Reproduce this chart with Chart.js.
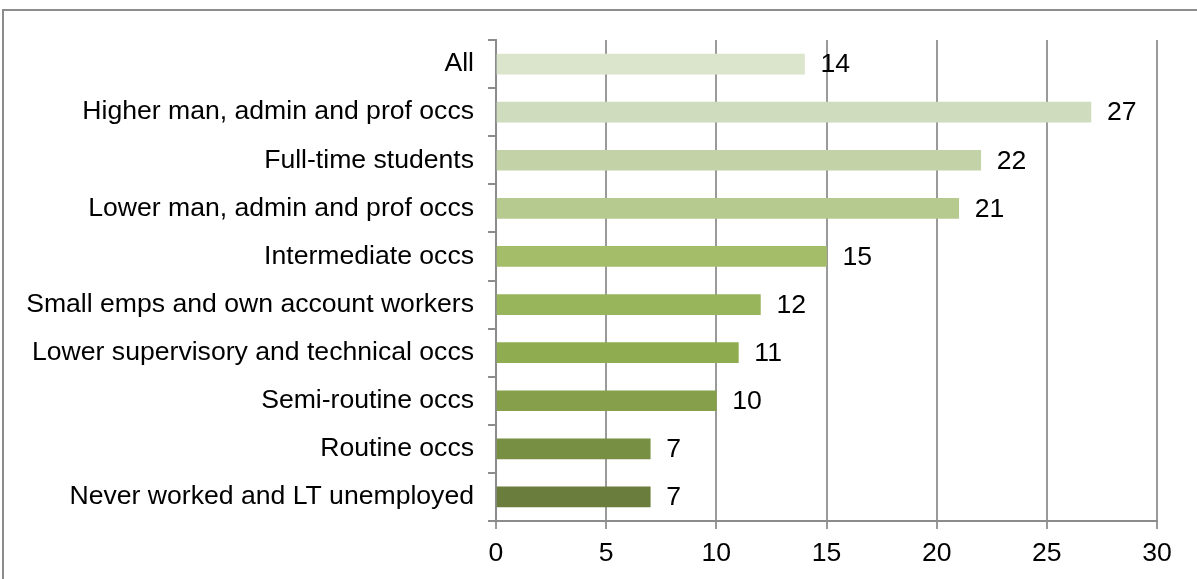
<!DOCTYPE html>
<html>
<head>
<meta charset="utf-8">
<script src="https://cdn.jsdelivr.net/npm/chart.js@4/dist/chart.umd.min.js"></script>
<style>
  html, body { margin: 0; padding: 0; background: #fff; }
  #wrap { position: relative; width: 1197px; height: 579px; }
</style>
</head>
<body>
<div id="wrap"><canvas id="chart" width="1197" height="579"></canvas></div>
<script>
// categories, top to bottom
var categories = [
    'All',
    'Higher man, admin and prof occs',
    'Full-time students',
    'Lower man, admin and prof occs',
    'Intermediate occs',
    'Small emps and own account workers',
    'Lower supervisory and technical occs',
    'Semi-routine occs',
    'Routine occs',
    'Never worked and LT unemployed'
];
var values = [14, 27, 22, 21, 15, 12, 11, 10, 7, 7];
var barColors = [
    '#dbe5cc', '#cfdcbd', '#c3d3a7', '#b6ca8f', '#a3bd69',
    '#98b55b', '#8fac50', '#869f4a', '#778f42', '#6a7d3c'
];
var xTicks = [0, 5, 10, 15, 20, 25, 30];

var FONT = 'Liberation Sans, Arial, sans-serif';
var FONT_SIZE = 26.6;

// outer frame of the chart box (cut at the right and bottom edges)
var framePlugin = {
    id: 'frame',
    beforeDraw: function(chart) {
        var ctx = chart.ctx;
        ctx.save();
        ctx.strokeStyle = '#8c8c8c';
        ctx.lineWidth = 2;
        ctx.beginPath();
        ctx.moveTo(3, 600);
        ctx.lineTo(3, 10);
        ctx.lineTo(1200, 10);
        ctx.stroke();
        ctx.restore();
    }
};

// numbers written after each bar
var valueLabels = {
    id: 'valueLabels',
    afterDatasetsDraw: function(chart) {
        var ctx = chart.ctx;
        var meta = chart.getDatasetMeta(0);
        ctx.save();
        ctx.font = FONT_SIZE + 'px ' + FONT;
        ctx.fillStyle = '#000';
        ctx.textAlign = 'left';
        ctx.textBaseline = 'middle';
        meta.data.forEach(function(bar, i) {
            ctx.fillText(String(values[i]), bar.x + 16, bar.y + 1);
        });
        ctx.restore();
    }
};

new Chart(document.getElementById('chart'), {
    type: 'bar',
    data: {
        labels: categories,
        datasets: [{
            data: values,
            backgroundColor: barColors,
            borderWidth: 0,
            barThickness: 20
        }]
    },
    options: {
        indexAxis: 'y',
        responsive: false,
        animation: false,
        events: [],
        layout: { padding: { top: 40, right: 40, left: 0, bottom: 0 } },
        plugins: {
            legend: { display: false },
            tooltip: { enabled: false }
        },
        scales: {
            x: {
                min: 0,
                max: 30,
                afterBuildTicks: function(scale) {
                    scale.ticks = xTicks.map(function(v) { return { value: v }; });
                },
                afterFit: function(scale) { scale.height = 58; },
                grid: { color: '#9a9a9a', lineWidth: 2, tickLength: 8, drawTicks: true },
                border: { color: '#8c8c8c', width: 2 },
                ticks: { color: '#000', font: { family: FONT, size: FONT_SIZE }, padding: 9 }
            },
            y: {
                afterFit: function(scale) { scale.width = 496; },
                grid: { drawOnChartArea: false, drawTicks: true, tickLength: 8, color: '#8c8c8c', lineWidth: 2, offset: true },
                border: { color: '#8c8c8c', width: 2 },
                ticks: { color: '#000', font: { family: FONT, size: FONT_SIZE }, padding: 14 }
            }
        }
    },
    plugins: [framePlugin, valueLabels]
});
</script>
</body>
</html>
